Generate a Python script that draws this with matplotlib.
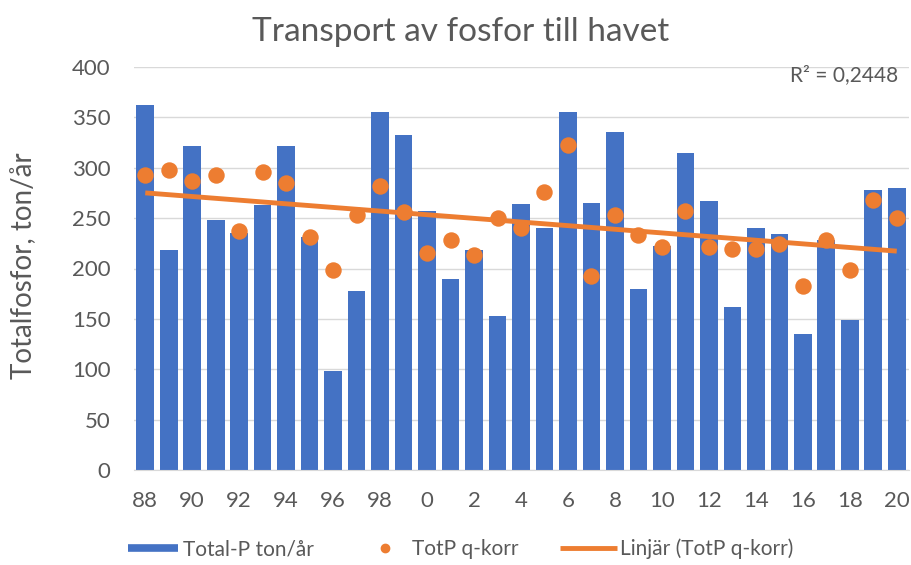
import numpy as np
import matplotlib
matplotlib.use("Agg")
import matplotlib.pyplot as plt
from matplotlib.lines import Line2D

years = list(range(1988, 2021))
total_p = [362, 218, 322, 248, 235, 263, 322, 231, 98, 178, 355, 333, 257, 190, 218, 153,
           264, 240, 355, 265, 335, 180, 222, 315, 267, 162, 240, 234, 135, 228, 149, 278, 280]
totp_qkorr = [293, 298, 287, 293, 237, 296, 285, 231, 199, 253, 282, 256, 215, 228, 213, 250,
              240, 276, 323, 193, 253, 233, 221, 257, 221, 219, 219, 224, 183, 228, 199, 268, 250]
tick_years = list(range(1988, 2021, 2))
tick_labels = [str(y % 100) for y in tick_years]
r2_text = "R² = 0,2448"
legend_labels = ["Total-P ton/år", "TotP q-korr", "Linjär (TotP q-korr)"]

blue = "#4472C4"
orange = "#ED7D31"
gray_txt = "#595959"

plt.rcParams['font.family'] = ['Lato', 'DejaVu Sans']

W, H = 911, 565
fig = plt.figure(figsize=(W / 100, H / 100), dpi=100)
ax = fig.add_axes([133.5 / W, 95 / H, 775 / W, 403 / H])

x = np.arange(len(years))
ax.bar(x, total_p, width=0.75, color=blue, zorder=2)
ax.scatter(x, totp_qkorr, s=140, color=orange, zorder=4, linewidths=0)
coef = np.polyfit(x, totp_qkorr, 1)
ax.plot(x, np.polyval(coef, x), color=orange, lw=3.5, zorder=3, solid_capstyle='butt')

ax.set_xlim(-0.5, len(years) - 0.5)
ax.set_ylim(0, 400)
ax.set_yticks(range(0, 401, 50))
ax.set_xticks([years.index(y) for y in tick_years])
ax.set_xticklabels(tick_labels)
ax.yaxis.grid(True, color="#D9D9D9", lw=1, zorder=0)
ax.set_axisbelow(True)
for s in ["top", "right", "left"]:
    ax.spines[s].set_visible(False)
ax.spines["bottom"].set_color("#D9D9D9")
ax.tick_params(axis="both", length=0, labelsize=16, colors=gray_txt)
ax.tick_params(axis="x", pad=15)
ax.tick_params(axis="y", pad=16.5)

fig.text(24 / W, 1 - 266 / H, "Totalfosfor, ton/år", rotation=90, ha="center", va="center",
         fontsize=20, color=gray_txt)
fig.text(461 / W, 1 - 41 / H, "Transport av fosfor till havet", ha="center", va="baseline",
         fontsize=24, color=gray_txt)
fig.text(898 / W, 1 - 75 / H, r2_text, ha="right", va="center", fontsize=15, color=gray_txt)

em = 15 * 100 / 72  # legend font size in px
ly = 1 - 549 / H
items = [
    (Line2D([], [], color=blue, lw=5.5, solid_capstyle='butt'), legend_labels[0], 128, 50, 5),
    (Line2D([], [], marker='o', ls='none', color=orange, markersize=6), legend_labels[1], 375, 20, 17),
    (Line2D([], [], color=orange, lw=3.5, solid_capstyle='butt'), legend_labels[2], 560, 57, 3),
]
for h, lab, x0, hl, tp in items:
    fig.legend([h], [lab], loc="center left", bbox_to_anchor=(x0 / W, ly),
               frameon=False, fontsize=15, labelcolor=gray_txt, borderpad=0,
               borderaxespad=0, handlelength=hl / em, handletextpad=tp / em)

fig.savefig("out.png", dpi=100)
